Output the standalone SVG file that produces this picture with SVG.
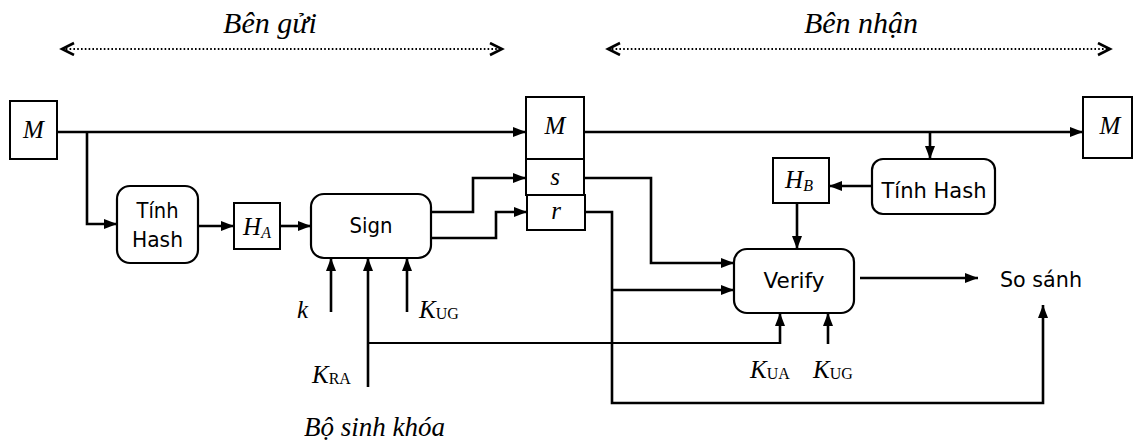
<svg xmlns="http://www.w3.org/2000/svg" width="1141" height="445" viewBox="0 0 1141 445">
<defs>
<marker id="ah" markerUnits="userSpaceOnUse" markerWidth="14" markerHeight="12" refX="13" refY="5" orient="auto">
<path d="M0,0 L13,5 L0,10 Z" fill="#000"/>
</marker>
<marker id="chev" markerUnits="userSpaceOnUse" markerWidth="16" markerHeight="16" refX="13" refY="7" orient="auto-start-reverse">
<path d="M1,1 L13,7 L1,13" fill="none" stroke="#000" stroke-width="2.6"/>
</marker>
<style>
.box{fill:#fff;stroke:#000;stroke-width:2}
.rbox{fill:#fff;stroke:#000;stroke-width:2.2}
.ln{fill:none;stroke:#000;stroke-width:2.6}
.thin{fill:none;stroke:#000;stroke-width:1.8}
.arr{marker-end:url(#ah)}
.dot{fill:none;stroke:#000;stroke-width:2;stroke-dasharray:1.6 2.2}
.sans{font-family:"DejaVu Sans","Liberation Sans",sans-serif;font-size:22px;fill:#000}
.it{font-family:"Liberation Serif","DejaVu Serif",serif;font-style:italic;fill:#000}
.sub{font-family:"Liberation Serif","DejaVu Serif",serif;font-style:normal;font-size:16px}
</style>
</defs>

<g id="labels">
<text class="it" x="270" y="33" font-size="30" text-anchor="middle">Bên gửi</text>
<text class="it" x="861" y="33" font-size="30" text-anchor="middle">Bên nhận</text>
<text class="it" x="304" y="436" font-size="27">Bộ sinh khóa</text>
</g>

<g id="connectors">
<path class="dot" d="M62,49 H502" marker-start="url(#chev)" marker-end="url(#chev)"/>
<path class="dot" d="M608,49 H1110" marker-start="url(#chev)" marker-end="url(#chev)"/>
<path class="ln arr" d="M57,132 H526"/>
<path class="ln arr" d="M87,132 V224 H117"/>
<path class="ln arr" d="M198,226 H234"/>
<path class="ln arr" d="M280,226 H311"/>
<path class="ln arr" d="M431,212 H473 V178 H526"/>
<path class="ln arr" d="M431,238 H496 V212 H527"/>
<path class="ln arr" d="M331,312 V258"/>
<path class="ln arr" d="M368,387 V258"/>
<path class="ln arr" d="M407,312 V258"/>
<path class="thin" d="M368,343 H780"/>
<path class="ln arr" d="M780,344 V313"/>
<path class="ln arr" d="M828,344 V313"/>
<path class="ln arr" d="M584,132 H1083"/>
<path class="ln arr" d="M930,132 V159"/>
<path class="ln arr" d="M872,186 H829"/>
<path class="ln arr" d="M797,203 V249"/>
<path class="ln arr" d="M584,178 H651 V263 H734"/>
<path class="ln arr" d="M585,212 H612 V403 H1043 V305"/>
<path class="ln arr" d="M612,290 H734"/>
<path class="ln arr" d="M860,278 H978"/>
</g>

<g id="M_src">
<rect class="box" x="10" y="101" width="47" height="58"/>
<text class="it" x="33.5" y="138" font-size="25" text-anchor="middle">M</text>
</g>

<g id="hash_A">
<rect class="rbox" x="117" y="186" width="81" height="77" rx="13"/>
<text class="sans" x="157.5" y="218" text-anchor="middle" textLength="42" lengthAdjust="spacingAndGlyphs">Tính</text>
<text class="sans" x="157.5" y="247" text-anchor="middle" textLength="51" lengthAdjust="spacingAndGlyphs">Hash</text>
</g>

<g id="H_A">
<rect class="box" x="234" y="203" width="46" height="46"/>
<text class="it" x="257" y="235" font-size="25" text-anchor="middle">H<tspan font-size="16" dy="3">A</tspan></text>
</g>

<g id="sign">
<rect class="rbox" x="311" y="194" width="120" height="64" rx="13"/>
<text class="sans" x="371" y="233" text-anchor="middle" textLength="43" lengthAdjust="spacingAndGlyphs">Sign</text>
</g>

<g id="sign_inputs">
<text class="it" x="297" y="318" font-size="25">k</text>
<text class="it" x="419" y="318" font-size="25">K<tspan class="sub" dy="1">UG</tspan></text>
<text class="it" x="312" y="383" font-size="25">K<tspan class="sub" dy="1">RA</tspan></text>
</g>

<g id="msg_M">
<rect class="box" x="526" y="97" width="58" height="62"/>
<text class="it" x="555" y="134" font-size="25" text-anchor="middle">M</text>
</g>
<g id="msg_s">
<rect class="box" x="526" y="159" width="58" height="36"/>
<text class="it" x="555" y="185" font-size="25" text-anchor="middle">s</text>
</g>
<g id="msg_r">
<rect class="box" x="527" y="195" width="58" height="35"/>
<text class="it" x="556" y="219" font-size="25" text-anchor="middle">r</text>
</g>

<g id="M_dst">
<rect class="box" x="1083" y="97" width="49" height="61"/>
<text class="it" x="1110" y="134" font-size="25" text-anchor="middle">M</text>
</g>

<g id="hash_B">
<rect class="rbox" x="872" y="159" width="123" height="55" rx="11"/>
<text class="sans" x="934" y="198" text-anchor="middle" textLength="105" lengthAdjust="spacingAndGlyphs">Tính Hash</text>
</g>

<g id="H_B">
<rect class="box" x="773" y="158" width="56" height="45"/>
<text class="it" x="799" y="188" font-size="25" text-anchor="middle">H<tspan font-size="16" dy="3">B</tspan></text>
</g>

<g id="verify">
<rect class="rbox" x="734" y="249" width="120" height="64" rx="13"/>
<text class="sans" x="794" y="288" text-anchor="middle" textLength="61" lengthAdjust="spacingAndGlyphs">Verify</text>
</g>

<g id="verify_inputs">
<text class="it" x="750" y="378" font-size="25">K<tspan class="sub" dy="1">UA</tspan></text>
<text class="it" x="813" y="378" font-size="25">K<tspan class="sub" dy="1">UG</tspan></text>
</g>

<g id="compare">
<text class="sans" x="1000" y="287" textLength="82" lengthAdjust="spacingAndGlyphs">So sánh</text>
</g>
</svg>
